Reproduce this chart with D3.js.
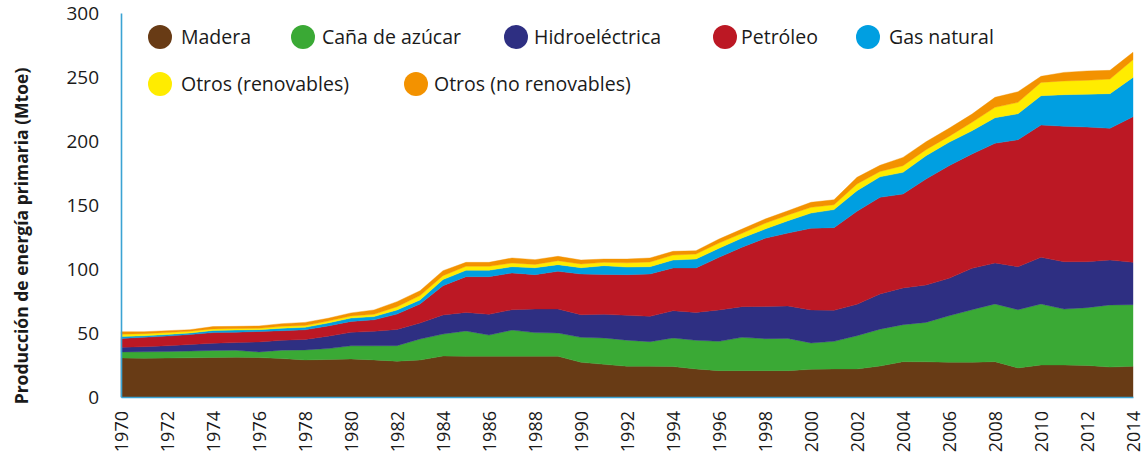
<!DOCTYPE html>
<html>
<head>
<meta charset="utf-8">
<script src="https://cdn.jsdelivr.net/npm/d3@7"></script>
<style>
  html, body { margin: 0; padding: 0; background: #fff; }
  svg { display: block; font-family: "Open Sans", "Noto Sans", sans-serif; }
</style>
</head>
<body>
<svg id="chart" width="1145" height="459"></svg>
<script>
// Primary energy production by source, Mtoe
const years = d3.range(1970, 2015);

const madera = [30.5, 30.2, 30.4, 30.6, 30.9, 31.1, 30.8, 30.0, 29.0, 29.3,
  29.7, 29.0, 28.0, 28.9, 32.0, 31.8, 31.8, 31.8, 31.8, 31.8,
  27.1, 25.5, 24.0, 24.0, 23.8, 21.9, 20.6, 20.6, 20.6, 20.6,
  21.6, 21.9, 21.9, 24.2, 27.6, 27.5, 27.1, 27.1, 27.6, 22.7,
  25.0, 25.0, 24.7, 23.4, 24.0];

const canaAzucar = [4.7, 5.1, 5.1, 5.3, 5.5, 5.4, 4.4, 6.6, 7.8, 8.5,
  10.3, 11.0, 12.1, 16.4, 17.2, 19.8, 16.6, 20.5, 18.5, 18.2,
  19.5, 20.6, 20.4, 19.2, 22.3, 22.4, 22.9, 26.0, 25.0, 25.2,
  20.6, 21.6, 26.0, 28.8, 28.9, 30.8, 36.4, 41.1, 45.1, 45.5,
  47.7, 43.7, 45.1, 48.5, 48.1];

const hidroelectrica = [3.6, 4.0, 4.5, 5.1, 5.6, 6.0, 7.8, 7.7, 8.2, 9.7,
  10.5, 11.3, 12.7, 12.5, 14.9, 14.5, 16.2, 15.9, 18.4, 18.7,
  17.7, 18.5, 19.4, 19.8, 21.3, 21.8, 24.5, 24.0, 25.2, 25.3,
  25.8, 24.2, 24.5, 27.5, 28.7, 29.2, 29.2, 32.3, 32.0, 33.6,
  36.4, 37.0, 35.9, 35.1, 33.1];

const petroleo = [7.0, 7.3, 7.6, 7.8, 8.3, 8.1, 8.2, 7.5, 7.5, 8.0,
  8.5, 9.0, 12.0, 14.9, 22.9, 27.9, 29.4, 28.7, 26.9, 29.5,
  31.8, 31.2, 31.8, 33.1, 33.4, 34.7, 41.1, 46.4, 53.2, 57.0,
  63.8, 64.6, 72.7, 75.5, 73.4, 82.8, 88.0, 89.3, 93.5, 99.2,
  103.4, 105.8, 105.2, 102.9, 113.8];

const gasNatural = [1.4, 1.2, 1.2, 1.2, 1.7, 1.7, 1.4, 2.0, 1.9, 2.3,
  2.7, 2.5, 3.2, 3.1, 4.7, 5.0, 5.0, 4.9, 5.4, 5.2,
  4.9, 6.8, 5.9, 5.7, 6.2, 7.0, 7.1, 7.2, 7.2, 9.6,
  11.9, 14.1, 16.1, 16.0, 16.9, 18.2, 18.3, 18.2, 20.0, 20.3,
  22.9, 24.7, 25.6, 27.1, 30.7];

const otrosRenovables = [1.8, 1.7, 1.5, 1.3, 1.2, 1.2, 1.1, 1.4, 1.5, 1.5,
  1.6, 1.8, 2.5, 3.4, 3.1, 3.1, 3.1, 2.9, 2.6, 3.1,
  2.9, 2.6, 3.3, 3.7, 3.9, 3.9, 4.1, 3.7, 4.5, 4.5,
  4.5, 3.8, 5.2, 4.2, 5.2, 4.7, 4.6, 6.6, 8.1, 8.9,
  10.4, 10.7, 10.9, 11.4, 13.8];

const otrosNoRenovables = [2.0, 1.5, 1.5, 1.3, 1.8, 1.7, 1.8, 2.1, 2.4, 2.2,
  2.4, 3.4, 4.0, 3.8, 3.9, 3.1, 3.1, 3.9, 3.7, 3.4,
  3.1, 2.6, 3.0, 3.1, 2.9, 2.6, 3.1, 3.3, 3.3, 3.3,
  3.9, 3.9, 5.2, 4.8, 6.5, 6.2, 6.3, 6.4, 7.8, 8.3,
  4.7, 6.7, 7.3, 6.8, 5.8];

const seriesNames = ["Madera", "Caña de azúcar", "Hidroeléctrica", "Petróleo",
  "Gas natural", "Otros (renovables)", "Otros (no renovables)"];
const seriesColors = ["#683b15", "#3aa935", "#2e2f82", "#bc1824",
  "#009fe1", "#ffec00", "#f39200"];
const yTicks = [0, 50, 100, 150, 200, 250, 300];
const xTicks = d3.range(1970, 2015, 2);

const seriesValues = [madera, canaAzucar, hidroelectrica, petroleo,
  gasNatural, otrosRenovables, otrosNoRenovables];

// Row table for the stack layout
const rows = years.map((yr, i) => {
  const r = { year: yr };
  seriesNames.forEach((name, k) => { r[name] = seriesValues[k][i]; });
  return r;
});

const svg = d3.select("#chart");
const axisColor = "#3ba3d3";

const x = d3.scaleLinear().domain([1970, 2014]).range([121, 1133]);
const y = d3.scaleLinear().domain([0, 300]).range([397, 13]);

const stacked = d3.stack().keys(seriesNames)(rows);

const area = d3.area()
  .x(d => x(d.data.year))
  .y0(d => y(d[0]))
  .y1(d => y(d[1]));

svg.append("g")
  .selectAll("path")
  .data(stacked)
  .join("path")
  .attr("fill", (d, i) => seriesColors[i])
  .attr("stroke", (d, i) => seriesColors[i])
  .attr("stroke-width", 0.4)
  .attr("d", area);

// Y axis
const yAxis = svg.append("g")
  .attr("transform", `translate(${x(1970)},0)`)
  .call(d3.axisLeft(y).tickValues(yTicks).tickSize(0).tickPadding(22));
yAxis.select(".domain").attr("stroke", axisColor).attr("stroke-width", 1.6);
yAxis.selectAll("text")
  .attr("fill", "#1a1a1a")
  .style("font-family", "\"Open Sans\", sans-serif")
  .style("font-size", "19px");

// X axis
const xAxis = svg.append("g")
  .attr("transform", `translate(0,${y(0)})`)
  .call(d3.axisBottom(x).tickValues(xTicks).tickFormat(d3.format("d")).tickSize(0));
xAxis.select(".domain").attr("stroke", axisColor).attr("stroke-width", 1.6);
xAxis.selectAll("text")
  .attr("fill", "#1a1a1a")
  .style("font-family", "\"Open Sans\", sans-serif")
  .style("font-size", "18px")
  .attr("text-anchor", "end")
  .attr("transform", "rotate(-90)")
  .attr("x", -14)
  .attr("y", 0)
  .attr("dy", "0.35em");

// Y axis title
svg.append("text")
  .attr("transform", "translate(28,236) rotate(-90)")
  .attr("text-anchor", "middle")
  .attr("fill", "#1a1a1a")
  .style("font-family", "\"Open Sans\", sans-serif")
  .style("font-weight", "700")
  .style("font-size", "17.5px")
  .text("Producción de energía primaria (Mtoe)");

// Legend
const legendPos = [
  { cx: 160, cy: 37, tx: 181 },
  { cx: 303, cy: 37, tx: 322 },
  { cx: 516, cy: 37, tx: 534 },
  { cx: 725, cy: 37, tx: 741 },
  { cx: 868, cy: 37, tx: 889 },
  { cx: 160, cy: 84, tx: 181 },
  { cx: 416, cy: 84, tx: 434 }
];

const legend = svg.append("g")
  .selectAll("g")
  .data(seriesNames)
  .join("g");

legend.append("circle")
  .attr("cx", (d, i) => legendPos[i].cx)
  .attr("cy", (d, i) => legendPos[i].cy)
  .attr("r", 12)
  .attr("fill", (d, i) => seriesColors[i]);

legend.append("text")
  .attr("x", (d, i) => legendPos[i].tx)
  .attr("y", (d, i) => legendPos[i].cy)
  .attr("dy", "0.35em")
  .attr("fill", "#1a1a1a")
  .style("font-family", "\"Open Sans\", sans-serif")
  .style("font-size", "19.5px")
  .text(d => d);
</script>
</body>
</html>
